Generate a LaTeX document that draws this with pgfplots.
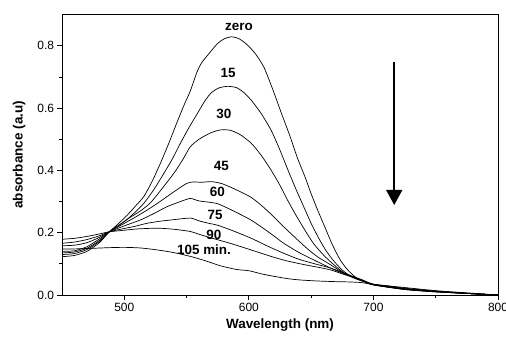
\documentclass[border=0pt]{standalone}
\usepackage{fontspec}
\setmainfont{Liberation Sans}
\usepackage{pgfplots}
\pgfplotsset{compat=1.18}
\usetikzlibrary{arrows.meta}
\begin{document}
\begin{tikzpicture}
\begin{axis}[
  scale only axis, width=436bp, height=280.3bp,
  xmin=450, xmax=800, ymin=0, ymax=0.9,
  xtick={500,600,700,800}, minor xtick={550,650,750},
  ytick={0,0.2,0.4,0.6,0.8}, minor ytick={0.1,0.3,0.5,0.7},
  tick pos=left, tick align=outside,
  major tick length=4.5bp, minor tick length=2.8bp,
  every tick/.style={black, line width=0.8bp},
  axis line style={line width=0.9bp},
  /pgf/number format/assume math mode=true,
  yticklabel style={/pgf/number format/fixed, /pgf/number format/fixed zerofill, /pgf/number format/precision=1},
  scaled y ticks=false,
  ticklabel style={font=\fontsize{12}{14}\selectfont},
  xlabel={\bfseries Wavelength (nm)},
  ylabel={\bfseries absorbance (a.u)},
  ylabel style={yshift=5bp},
  label style={font=\fontsize{13.5}{16}\selectfont},
  curve/.style={black, line width=0.7bp, smooth, tension=0.4, mark=none},
  clip=false,
]
\coordinate (O) at (axis cs:450,0);
% zero
\addplot[curve] coordinates {(450,0.123)(460,0.127)(470,0.140)(480,0.168)(488,0.203)(495,0.228)(502,0.255)(510,0.290)(516,0.318)(523,0.370)(529,0.423)(536,0.490)(542,0.551)(548,0.610)(553,0.655)(558,0.712)(562,0.745)(569,0.780)(575,0.808)(580,0.822)(586,0.829)(592,0.823)(598,0.806)(605,0.776)(612,0.732)(619,0.662)(626,0.585)(633,0.510)(639,0.440)(645,0.380)(650,0.325)(655,0.275)(661,0.218)(667,0.162)(673,0.115)(679,0.082)(686,0.056)(692,0.044)(700,0.034)(710,0.030)(725,0.022)(740,0.016)(750,0.012)(765,0.008)(780,0.004)(800,0.000)};
% 15
\addplot[curve] coordinates {(450,0.130)(460,0.133)(470,0.146)(480,0.172)(488,0.203)(495,0.222)(502,0.242)(509,0.267)(516,0.296)(524,0.340)(532,0.392)(539,0.440)(545,0.487)(552,0.538)(559,0.585)(565,0.625)(570,0.650)(576,0.665)(583,0.670)(590,0.666)(596,0.650)(602,0.625)(610,0.582)(618,0.528)(625,0.465)(631,0.405)(638,0.338)(645,0.275)(650,0.230)(656,0.183)(662,0.142)(668,0.110)(675,0.080)(682,0.060)(690,0.046)(700,0.033)(710,0.028)(725,0.020)(750,0.011)(775,0.005)(800,0.000)};
% 30
\addplot[curve] coordinates {(450,0.135)(460,0.138)(470,0.150)(480,0.175)(488,0.203)(495,0.222)(505,0.250)(513,0.270)(521,0.296)(530,0.340)(540,0.392)(547,0.435)(553,0.476)(560,0.500)(569,0.520)(577,0.530)(585,0.529)(593,0.515)(602,0.487)(610,0.448)(618,0.400)(625,0.352)(631,0.305)(638,0.255)(645,0.208)(652,0.165)(660,0.128)(668,0.098)(676,0.072)(684,0.055)(692,0.044)(700,0.033)(725,0.019)(750,0.011)(775,0.005)(800,0.000)};
% 45
\addplot[curve] coordinates {(450,0.140)(460,0.142)(470,0.155)(480,0.180)(488,0.203)(500,0.230)(508,0.248)(516,0.267)(525,0.290)(534,0.315)(543,0.340)(550,0.358)(555,0.363)(562,0.362)(570,0.364)(578,0.358)(586,0.345)(594,0.330)(602,0.313)(610,0.288)(619,0.255)(628,0.219)(637,0.185)(646,0.152)(655,0.123)(666,0.096)(675,0.073)(685,0.055)(693,0.043)(700,0.032)(725,0.018)(750,0.010)(775,0.005)(800,0.000)};
% 60
\addplot[curve] coordinates {(450,0.158)(460,0.160)(470,0.168)(480,0.185)(488,0.203)(500,0.222)(513,0.241)(524,0.262)(534,0.283)(545,0.300)(553,0.310)(560,0.302)(568,0.298)(575,0.293)(585,0.275)(595,0.255)(602,0.240)(612,0.213)(620,0.190)(628,0.166)(640,0.137)(655,0.107)(668,0.082)(680,0.062)(690,0.048)(700,0.033)(725,0.018)(750,0.010)(775,0.005)(800,0.000)};
% 75
\addplot[curve] coordinates {(450,0.166)(460,0.170)(470,0.178)(480,0.190)(488,0.203)(498,0.212)(508,0.220)(518,0.230)(529,0.237)(540,0.242)(553,0.247)(560,0.238)(568,0.230)(575,0.224)(588,0.205)(602,0.182)(615,0.157)(628,0.134)(640,0.115)(653,0.100)(666,0.086)(678,0.068)(690,0.050)(700,0.034)(725,0.018)(750,0.011)(775,0.005)(800,0.000)};
% 90
\addplot[curve] coordinates {(450,0.179)(460,0.182)(470,0.188)(480,0.196)(488,0.203)(500,0.208)(510,0.212)(521,0.214)(530,0.214)(540,0.211)(553,0.204)(560,0.195)(570,0.183)(585,0.166)(600,0.147)(617,0.125)(630,0.110)(645,0.097)(657,0.088)(666,0.080)(678,0.064)(690,0.050)(700,0.035)(725,0.020)(750,0.012)(775,0.005)(800,0.000)};
% 105
\addplot[curve] coordinates {(450,0.148)(460,0.148)(475,0.150)(488,0.152)(500,0.153)(513,0.151)(526,0.145)(540,0.136)(553,0.124)(565,0.110)(577,0.094)(590,0.082)(600,0.078)(610,0.068)(620,0.060)(632,0.052)(642,0.048)(655,0.045)(669,0.043)(680,0.042)(690,0.040)(700,0.034)(725,0.024)(750,0.014)(775,0.007)(800,0.000)};
\begin{scope}[font=\fontsize{13.5}{16}\selectfont\bfseries]
\node at (axis cs:592,0.861) {zero};
\node at (axis cs:583.3,0.714) {15};
\node at (axis cs:580,0.58) {30};
\node at (axis cs:578,0.415) {45};
\node at (axis cs:574.8,0.33) {60};
\node at (axis cs:573,0.257) {75};
\node at (axis cs:572,0.192) {90};
\node at (axis cs:564,0.146) {105 min.};
\end{scope}
\draw[line width=1.5bp, -{Triangle[width=16bp,length=15bp]}] (axis cs:716.7,0.748) -- (axis cs:716.7,0.289);
\end{axis}
\pgfresetboundingbox
\path ([shift={(-62bp,-45bp)}]O) rectangle ++(506bp,340bp);
\end{tikzpicture}
\end{document}
